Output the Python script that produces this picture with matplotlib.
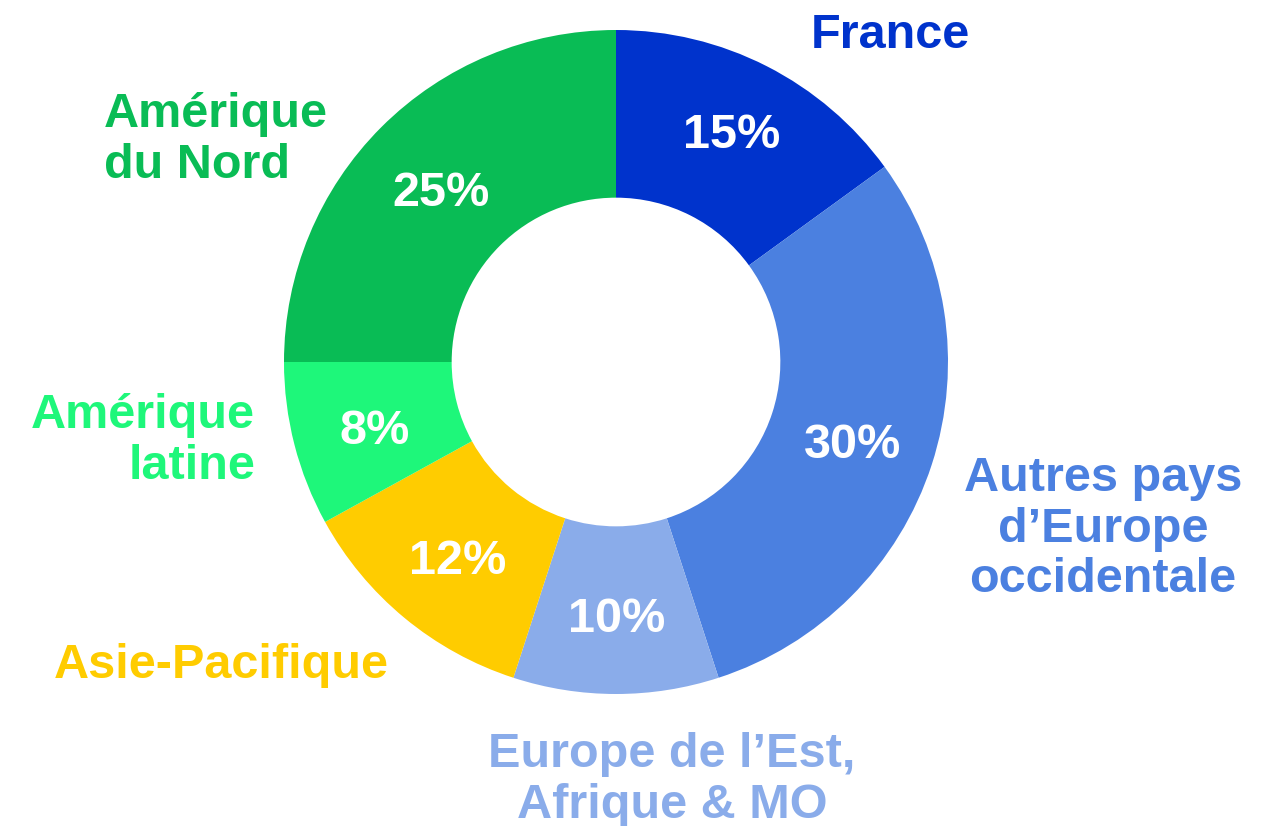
import matplotlib
matplotlib.use("Agg")
import matplotlib.pyplot as plt

regions = ["France", "Autres pays\nd\u2019Europe\noccidentale", "Europe de l\u2019Est,\nAfrique & MO",
           "Asie-Pacifique", "Am\u00e9rique\nlatine", "Am\u00e9rique\ndu Nord"]
shares = [15, 30, 10, 12, 8, 25]
colors = ["#0033CC", "#4B80E0", "#8AACEA", "#FFCC00", "#1EF77A", "#09BC55"]

W, H = 1268, 826
fig = plt.figure(figsize=(W / 100, H / 100), dpi=100)
ax = fig.add_axes([0, 0, 1, 1])

cx, cy, R = 616, H - 362, 332
ax.pie(shares, colors=colors, startangle=90, counterclock=False,
       center=(cx, cy), radius=R, wedgeprops=dict(width=R * 0.505, linewidth=0),
       frame=True)
ax.set_xlim(0, W)
ax.set_ylim(0, H)
ax.set_aspect("equal")
ax.axis("off")

font = "Liberation Sans"
pct_pos = [(732, 135), (853, 446), (617, 619), (458, 561), (375, 432), (441, 193)]
for v, (x, y) in zip(shares, pct_pos):
    ax.text(x, H - y, f"{v}%", ha="center", va="center", color="white",
            fontsize=35, fontweight="bold", family=font)

lab_pos = [(890, 35, "center"), (1103, 529, "center"), (672, 780, "center"),
           (221, 665, "center"), (255, 441, "right"), (104, 140, "left")]
for lab, c, (x, y, al) in zip(regions, colors, lab_pos):
    ax.text(x, H - y, lab, ha=al, va="center", multialignment=al, color=c,
            fontsize=35, fontweight="bold", family=font, linespacing=1.15)

fig.savefig("out.png", dpi=100)
